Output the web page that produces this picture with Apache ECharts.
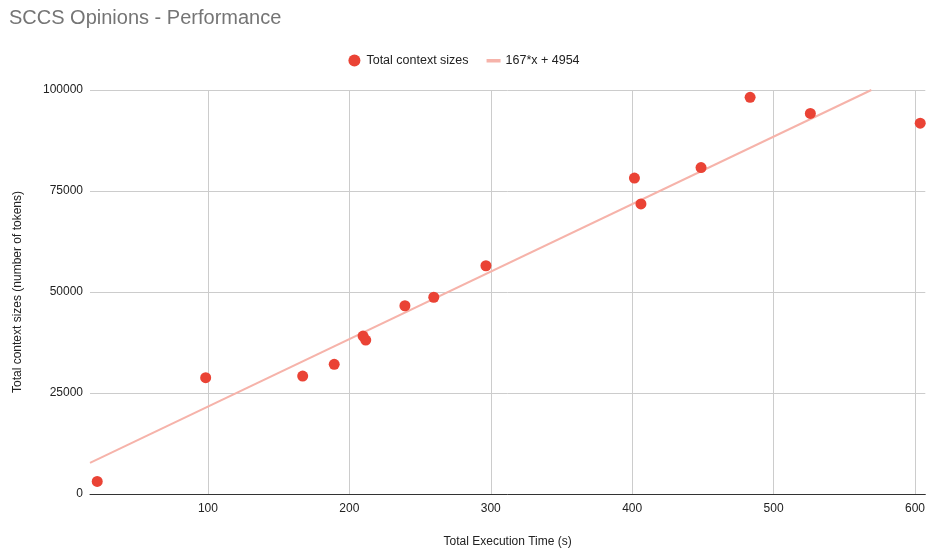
<!DOCTYPE html>
<html><head><meta charset="utf-8">
<script src="https://cdn.jsdelivr.net/npm/echarts@6/dist/echarts.min.js"></script>
<style>html,body{margin:0;padding:0;background:#fff}#c{width:928px;height:553px}</style>
</head><body><div id="c"></div>
<script>
const execTime = [21.7, 98.4, 167.0, 189.3, 209.7, 211.6, 239.3, 259.7, 296.6, 401.6, 406.2, 448.7, 483.4, 526.0, 603.7];
const contextSize = [3100, 28800, 29200, 32100, 39100, 38100, 46600, 48700, 56500, 78200, 71800, 80800, 98200, 94200, 91800];
const trendSlope = 167;
const trendIntercept = 4954;
const xTicks = [100, 200, 300, 400, 500, 600];
const yTicks = [0, 25000, 50000, 75000, 100000];
const xMin = 16.6, xMax = 607.3, yMin = 0, yMax = 100000;

const scatterData = execTime.map((x, i) => [x, contextSize[i]]);
const xEnd = (yMax - trendIntercept) / trendSlope;
const trendData = [[xMin, trendSlope * xMin + trendIntercept], [xEnd, trendSlope * xEnd + trendIntercept]];

const font = '"Liberation Sans", Arial, sans-serif';
const lineIcon = 'path://M0,0h0.01v0.01h-0.01z M0,4.5h14v3.5h-14z M0,11.99h0.01v0.01h-0.01z';
const chart = echarts.init(document.getElementById('c'));
chart.setOption({
  animation: false,
  title: {text: 'SCCS Opinions - Performance', left: 4, top: 3,
    textStyle: {fontFamily: font, fontSize: 20, fontWeight: 'normal', color: '#757575'}},
  legend: {top: 49, left: 'center', itemGap: 18, itemWidth: 14, itemHeight: 12,
    textStyle: {fontFamily: font, fontSize: 12.5, color: '#222'},
    data: [{name: 'Total context sizes', icon: 'circle'},
           {name: '167*x + 4954', icon: lineIcon, itemStyle: {color: '#f6b3aa'}}]},
  grid: {left: 90, right: 0, top: 90, bottom: 55, containLabel: false},
  xAxis: {type: 'value', min: xMin, max: xMax,
    name: 'Total Execution Time (s)', nameLocation: 'middle', nameGap: 42,
    nameTextStyle: {fontFamily: font, fontSize: 12, color: '#222'},
    axisLine: {show: true, onZero: false, lineStyle: {color: '#333', width: 1}},
    axisTick: {show: false, customValues: xTicks},
    axisLabel: {customValues: xTicks, fontFamily: font, fontSize: 12, color: '#222', margin: 9},
    splitLine: {show: true, lineStyle: {color: '#cccccc', width: 1}}},
  yAxis: {type: 'value', min: yMin, max: yMax, interval: 25000,
    name: 'Total context sizes (number of tokens)', nameLocation: 'middle', nameGap: 66,
    nameTextStyle: {fontFamily: font, fontSize: 12, color: '#222'},
    axisLine: {show: false}, axisTick: {show: false},
    axisLabel: {fontFamily: font, fontSize: 12, color: '#222', margin: 7, formatter: v => String(v)},
    splitLine: {show: true, lineStyle: {color: '#cccccc', width: 1}}},
  series: [
    {name: 'Total context sizes', type: 'scatter', data: scatterData, symbolSize: 11,
      itemStyle: {color: '#ea4335', opacity: 1}, z: 3},
    {name: '167*x + 4954', type: 'line', data: trendData, symbol: 'none',
      lineStyle: {color: '#f6b3aa', width: 2}, itemStyle: {color: '#f6b3aa'}, z: 2, silent: true}
  ]
});
</script></body></html>
